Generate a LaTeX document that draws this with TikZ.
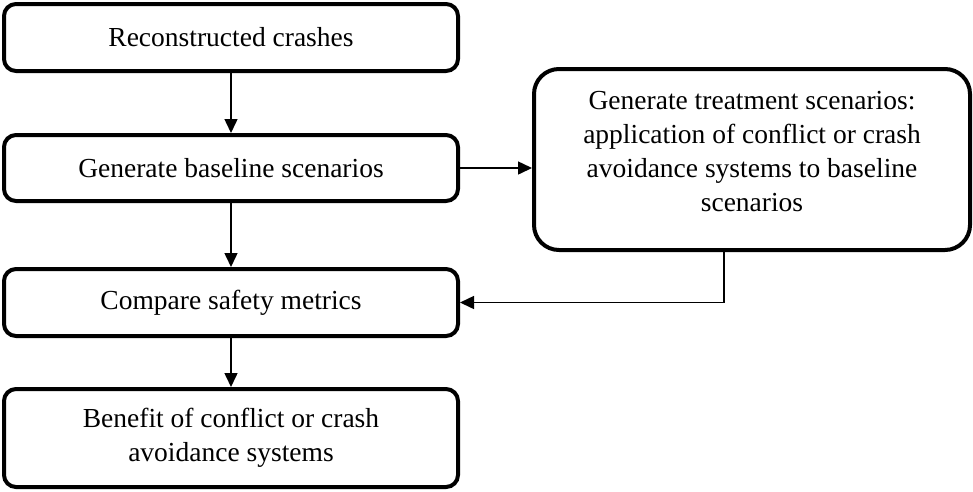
\documentclass[tikz,border=0pt]{standalone}
\usepackage{fontspec}
\setmainfont{Liberation Serif}
\usetikzlibrary{arrows.meta}
\begin{document}
\begin{tikzpicture}[x=1pt,y=-1pt,
  box/.style={draw, line width=4pt, rounded corners=12pt, align=center, inner sep=0pt,
    font=\fontsize{27.5}{34}\selectfont},
  conn/.style={line width=1.5pt, -{Triangle[length=14pt,width=13pt]}}]
\useasboundingbox (0,0) rectangle (973,491);
\node[box, minimum width=454pt, minimum height=67pt] (b1) at (231,37.5) {Reconstructed crashes};
\node[box, minimum width=454pt, minimum height=66pt] (b2) at (231,168) {Generate baseline scenarios};
\node[box, minimum width=454pt, minimum height=67pt] (b3) at (231,302.5) {Compare safety metrics};
\node[box, minimum width=454pt, minimum height=98pt] (b4) at (231,438) {Benefit of conflict or crash\\avoidance systems};
\node[box, rounded corners=25pt, minimum width=436pt, minimum height=181pt] (rb) at (752,159.5) {};
\node[align=center, font=\fontsize{27.5}{34}\selectfont] (rt) at (752,152) {Generate treatment scenarios:\\application of conflict or crash\\avoidance systems to baseline\\scenarios};
\draw[conn] (b1) -- (b2);
\draw[conn] (b2) -- (b3);
\draw[conn] (b3) -- (b4);
\draw[conn] (b2.east) -- (b2.east -| rb.west);
\draw[conn] ([xshift=-28pt]rb.south) |- (b3.east);
\end{tikzpicture}
\end{document}
